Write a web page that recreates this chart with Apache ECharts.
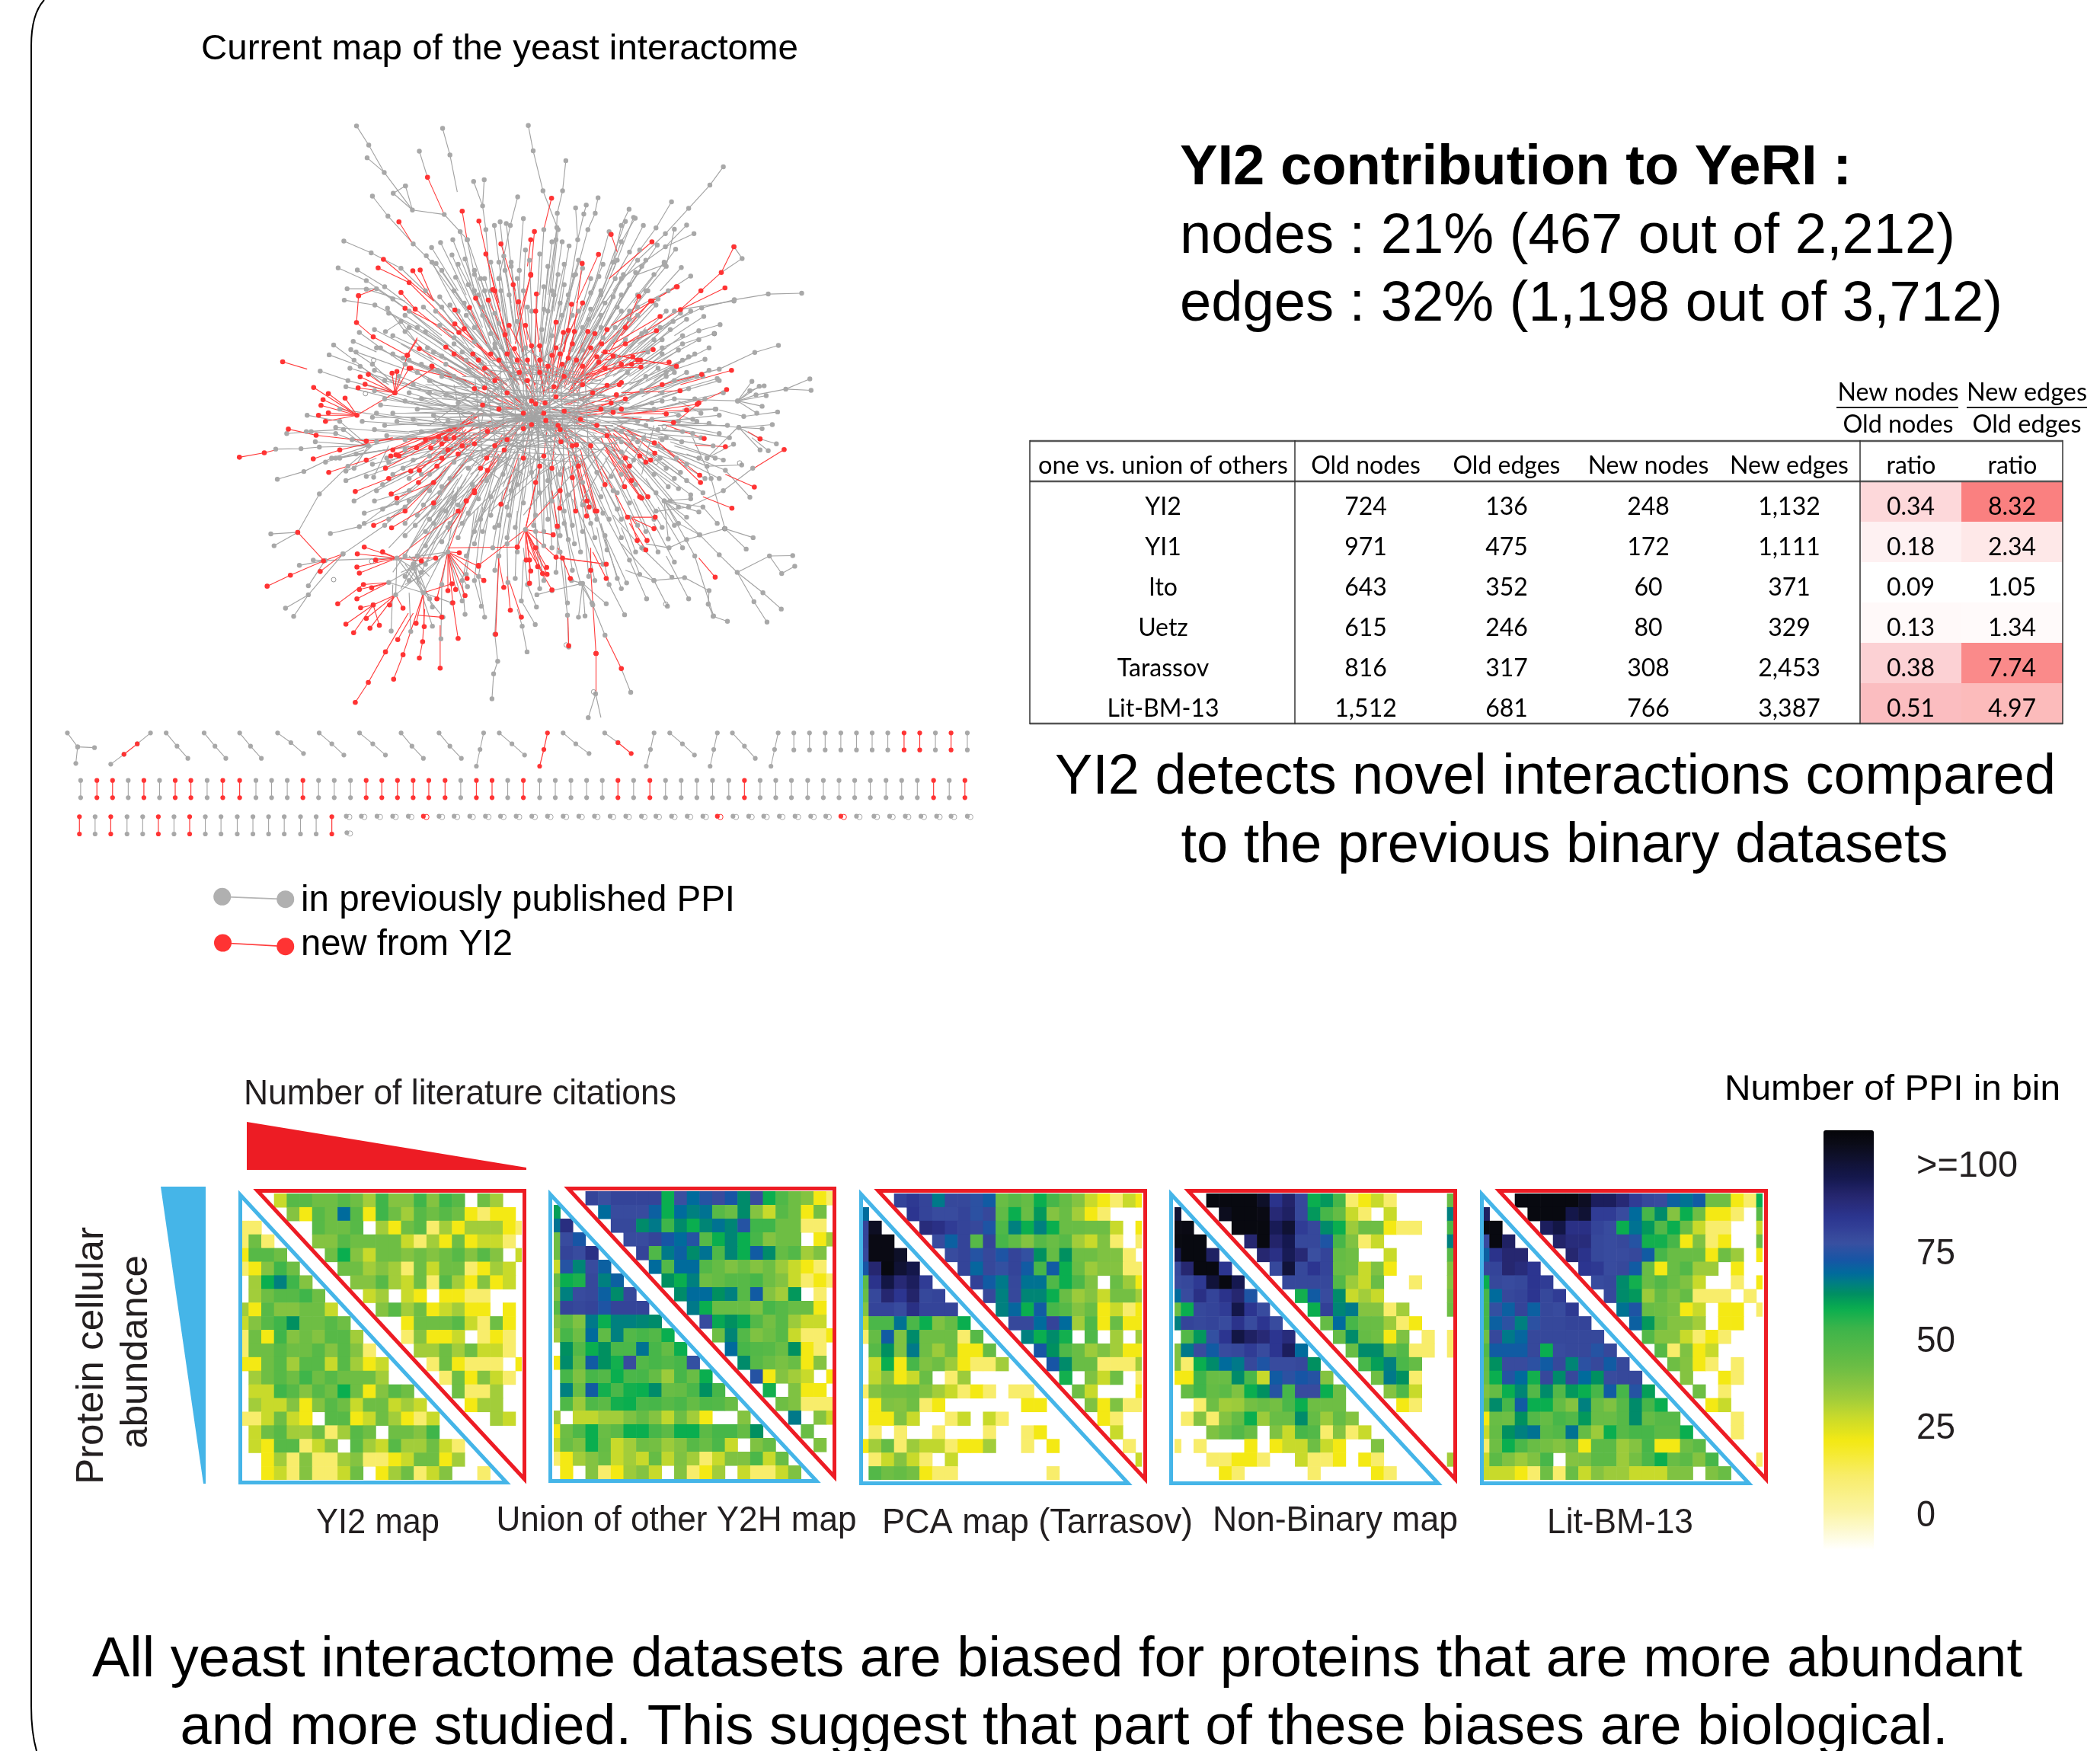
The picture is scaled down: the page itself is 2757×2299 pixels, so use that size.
<!DOCTYPE html>
<html><head><meta charset="utf-8">
<style>html,body{margin:0;padding:0;background:#fff}#c{width:2757px;height:2299px}</style>
<script src="https://cdn.jsdelivr.net/npm/echarts@6/dist/echarts.min.js"></script>
</head><body><div id="c"></div>
<script>
// ---------- DATA: bins of PPI counts (0 = empty bin), rows by abundance, columns by citations
const mapNames=['YI2 map','Union of other Y2H map','PCA map (Tarrasov)','Non-Binary map','Lit-BM-13'];
const binsYI2=[
[0,0,0,27,46,46,41,41,46,41,32,52,37,37,52,37,52,46,0,41,32,0,0],
[0,0,0,0,37,20,46,41,68,46,20,52,41,32,46,41,46,41,20,10,20,20,0],
[10,10,0,0,0,0,46,41,41,46,0,32,20,41,46,10,32,20,32,32,32,20,10],
[10,41,10,0,0,0,37,37,46,41,41,41,41,27,10,32,20,41,20,27,27,10,0],
[20,46,46,41,0,0,0,41,58,37,27,41,41,37,41,37,41,46,37,46,37,0,27],
[10,20,37,52,41,0,0,0,41,41,32,37,32,10,41,27,41,41,10,20,32,27,0],
[0,32,58,65,52,37,0,0,0,37,37,46,32,27,41,10,46,32,20,37,20,27,0],
[0,32,41,46,46,52,41,0,0,0,27,32,0,27,20,0,20,20,10,10,0,0,0],
[32,20,46,37,37,41,41,27,0,0,0,37,46,32,41,20,27,32,20,20,0,20,0],
[27,37,46,52,62,41,41,46,41,0,0,0,0,20,41,41,41,46,27,10,41,20,0],
[10,41,20,52,37,41,37,46,46,32,0,0,0,10,37,20,20,27,0,10,20,10,0],
[10,41,41,46,41,41,46,37,46,37,10,0,0,0,32,32,41,32,41,27,27,10,0],
[20,20,41,46,32,46,46,27,46,32,20,27,0,0,0,10,41,20,10,10,10,0,20],
[0,32,41,46,41,52,41,46,41,41,41,32,0,0,0,0,10,41,20,37,27,10,0],
[0,27,27,52,46,37,46,41,58,41,20,37,46,41,0,0,0,41,10,10,32,0,0],
[0,32,27,27,37,20,37,46,41,27,41,41,27,32,27,0,0,0,20,32,32,0,0],
[10,10,27,41,27,20,0,46,46,20,27,41,32,20,10,27,0,0,0,0,32,27,0],
[0,27,41,46,32,32,41,10,32,46,41,0,41,41,37,52,0,0,0,0,0,0,0],
[0,27,20,46,46,10,27,37,0,46,32,27,46,32,32,41,27,10,0,0,0,0,0],
[0,0,20,32,10,37,10,10,32,37,10,10,20,27,41,41,20,32,0,0,0,0,0],
[0,0,20,27,10,37,10,10,27,41,0,20,32,41,10,27,37,0,0,10,0,0,0]];
const binsY2H=[
[0,0,0,80,77,80,80,80,80,58,77,68,74,78,72,63,78,58,48,41,37,20,10],
[60,0,0,0,68,78,78,78,70,58,68,65,67,46,42,63,37,27,46,41,20,40,0],
[67,87,0,0,0,79,79,63,66,52,63,58,64,67,64,74,52,52,41,41,10,10,0],
[41,78,72,0,0,0,78,78,80,72,68,74,46,58,64,58,50,37,41,41,0,20,32],
[41,80,78,86,0,0,0,80,48,66,70,63,67,48,64,58,71,63,43,47,32,38,0],
[27,74,64,78,70,0,0,0,68,47,68,68,47,43,38,42,37,41,33,27,20,10,0],
[42,58,56,79,65,70,0,0,0,62,58,65,41,43,46,46,50,41,37,27,10,20,10],
[38,65,78,79,70,63,79,0,0,0,63,68,68,62,65,46,71,37,32,61,0,10,0],
[46,80,79,80,73,80,80,80,0,0,0,66,58,42,42,42,38,50,46,42,42,20,0],
[37,45,38,66,58,65,65,64,63,0,0,0,78,59,62,59,47,40,46,33,27,27,0],
[32,50,41,68,44,65,47,50,47,58,0,0,0,41,64,47,38,41,46,27,10,10,20],
[0,62,47,58,62,49,49,67,50,43,58,0,0,0,68,50,47,46,42,62,20,10,0],
[20,63,43,71,62,57,78,47,50,47,50,76,0,0,0,63,46,42,39,42,20,37,0],
[0,50,38,50,47,58,49,50,43,33,50,42,58,0,0,0,74,20,37,32,27,0,20],
[0,65,42,71,57,49,57,58,63,42,43,49,62,50,0,0,0,57,0,38,20,20,0],
[0,48,33,48,45,57,58,49,50,46,49,43,48,47,42,0,0,0,41,38,10,10,10],
[32,0,28,28,32,32,38,43,37,28,41,32,20,0,0,37,0,0,0,66,0,37,27],
[20,41,48,58,42,45,58,58,50,45,58,58,45,50,50,43,62,0,0,0,42,0,0],
[27,42,38,58,43,27,32,41,40,33,37,46,42,49,27,0,38,43,0,0,0,38,0],
[10,20,32,37,42,27,32,27,43,28,38,32,10,27,38,38,49,27,42,0,0,0,0],
[0,20,0,37,10,20,33,37,27,0,37,10,20,32,0,27,10,10,27,38,0,0,0]];
const binsPCA=[
[0,0,0,80,83,80,66,79,79,75,71,42,46,43,58,50,43,37,27,20,10,27,20],
[68,0,0,0,84,80,78,78,80,75,79,44,58,42,61,37,42,32,20,10,0,0,0],
[80,103,0,0,0,88,86,82,80,79,73,48,65,58,65,58,42,42,41,41,27,0,20],
[80,106,106,0,0,0,78,70,80,46,80,50,44,37,46,42,46,32,27,38,10,0,10],
[79,106,106,102,0,0,0,78,80,74,79,73,80,76,62,43,62,41,41,38,38,10,0],
[72,90,107,100,96,0,0,0,80,69,79,76,80,71,50,71,58,42,33,37,37,10,10],
[45,85,97,89,93,82,0,0,0,81,71,66,79,67,67,48,58,49,38,0,42,33,20],
[42,79,90,84,91,79,80,0,0,0,79,65,79,64,64,58,42,33,37,27,40,40,32],
[37,80,80,78,86,80,80,80,0,0,0,65,69,58,71,50,46,37,42,20,27,10,20],
[27,49,49,67,49,58,38,43,58,0,0,0,79,79,68,80,68,32,48,20,42,20,20],
[10,43,71,38,63,41,41,41,10,46,0,0,0,65,58,63,57,0,48,0,32,0,32],
[0,46,62,38,66,41,33,41,20,20,43,0,0,0,72,62,48,42,33,38,32,20,20],
[0,27,58,20,50,38,41,33,20,10,10,32,0,0,0,72,63,42,42,10,10,10,32],
[0,28,37,20,27,42,0,10,33,0,0,0,0,0,0,0,57,0,38,27,41,0,10],
[10,37,41,41,42,38,32,27,10,20,10,0,10,10,0,0,0,41,27,0,0,0,20],
[0,20,38,37,41,10,20,0,0,0,0,0,0,20,20,0,0,0,38,20,38,10,10],
[0,20,20,38,27,0,0,10,27,0,27,10,0,0,0,0,0,0,0,20,10,0,0],
[0,10,0,10,0,0,10,0,0,0,10,0,0,10,20,0,0,0,0,0,27,0,0],
[20,32,43,10,33,28,28,10,20,20,32,0,0,10,0,20,0,0,0,0,0,10,0],
[0,10,27,37,27,10,0,27,0,0,0,0,0,0,0,0,0,0,0,0,0,0,27],
[0,47,41,43,40,20,10,10,0,0,0,0,0,0,0,10,0,0,0,0,0,0,0]];
const binsNonBinary=[
[0,0,0,107,107,107,107,102,85,91,79,58,61,50,10,20,27,10,0,0,0,0,42],
[100,0,0,0,104,107,107,106,89,92,79,61,50,43,27,10,0,27,0,0,0,0,65],
[106,106,0,0,0,107,107,107,94,100,82,79,63,58,33,41,41,20,10,10,0,0,49],
[107,107,107,0,0,0,90,107,91,95,79,79,73,50,38,10,27,0,0,0,0,0,65],
[95,107,107,92,0,0,0,90,86,94,89,77,80,43,41,0,0,27,0,0,0,0,46],
[79,90,107,107,84,0,0,0,79,99,79,84,80,42,41,27,38,20,0,0,0,0,38],
[78,79,83,99,107,95,0,0,0,79,79,79,79,47,33,27,42,0,0,10,0,0,37],
[68,78,86,80,85,90,73,0,0,0,57,71,78,63,27,32,27,0,0,0,0,0,40],
[42,58,79,80,82,96,84,78,0,0,0,58,81,64,66,37,37,10,32,0,0,0,41],
[65,80,79,80,78,85,78,84,78,0,0,0,43,68,50,42,42,33,10,20,0,0,0],
[0,47,61,76,84,97,92,89,84,88,0,0,0,43,63,43,41,20,38,0,10,0,10],
[38,66,78,71,78,79,82,78,84,93,68,0,0,0,42,63,63,43,47,10,10,0,10],
[38,10,58,63,68,66,79,73,78,78,79,62,0,0,0,50,60,65,49,43,0,0,0],
[20,20,52,42,42,63,49,27,71,75,72,74,37,0,0,0,41,66,62,10,0,0,0],
[0,43,52,43,45,38,58,62,74,50,78,78,58,41,0,0,0,37,48,27,0,0,0],
[0,0,10,41,32,33,40,42,40,49,58,41,41,41,0,0,0,0,20,10,0,0,0],
[0,10,37,10,37,43,58,33,42,42,63,43,33,43,37,0,0,0,0,0,0,0,0],
[0,0,0,38,42,47,42,0,38,27,50,47,10,37,10,27,0,0,0,0,0,0,0],
[10,0,10,0,0,0,20,0,20,27,27,41,27,20,0,0,38,0,0,0,0,0,0],
[0,0,0,10,10,20,20,10,0,0,27,10,10,20,0,20,10,0,0,0,0,0,32],
[0,0,0,0,20,10,0,0,0,0,0,10,0,0,0,0,20,10,0,0,0,0,0]];
const binsLit=[
[0,0,0,107,107,107,107,107,103,93,93,89,82,79,78,70,67,71,41,41,20,10,58],
[92,0,0,0,107,107,107,96,100,82,82,78,68,50,63,37,58,41,20,20,10,0,46],
[107,107,0,0,0,93,97,86,86,80,78,58,67,61,47,58,42,27,10,10,0,0,27],
[78,107,92,0,0,0,91,88,88,79,78,79,74,57,57,50,20,38,10,20,0,0,41],
[70,85,90,90,0,0,0,90,85,79,78,78,79,71,50,42,42,42,20,41,33,0,20],
[79,80,90,88,84,0,0,0,84,83,78,79,71,42,20,42,47,33,33,0,20,0,0],
[58,79,78,79,84,82,0,0,0,78,79,63,57,42,47,42,38,27,0,0,10,0,20],
[50,68,79,80,84,79,82,0,0,0,79,63,61,33,43,38,43,10,10,10,0,10,0],
[50,76,70,80,70,79,78,83,0,0,0,67,73,42,41,39,20,27,0,20,20,0,10],
[50,70,75,65,75,79,79,80,80,0,0,0,70,61,43,37,37,32,0,20,20,0,0],
[41,79,66,69,79,79,79,79,79,79,0,0,0,47,37,37,27,10,20,10,0,0,0],
[47,71,71,71,79,58,78,79,79,74,79,0,0,0,46,10,38,20,27,0,0,0,0],
[43,62,78,78,75,71,79,64,75,79,71,79,0,0,0,41,37,20,10,0,10,0,0],
[42,58,74,68,57,79,63,79,68,62,78,79,79,0,0,0,37,0,0,20,10,0,0],
[38,43,58,64,47,63,47,61,58,50,71,50,74,60,0,0,0,41,0,10,0,0,0],
[42,63,50,71,58,58,43,37,65,42,38,46,63,50,58,0,0,0,20,27,0,0,0],
[20,42,41,62,47,43,50,47,61,42,42,46,63,43,46,46,0,0,0,0,10,0,0],
[27,43,62,65,67,45,47,67,43,33,58,46,50,50,45,45,58,0,0,0,10,0,0],
[10,41,58,49,42,40,37,41,20,45,45,33,37,50,20,20,41,45,0,0,0,0,0],
[27,45,38,33,38,50,0,37,38,45,45,33,40,49,58,42,45,37,50,0,0,0,10],
[27,27,27,20,10,41,10,42,27,37,33,33,27,27,27,38,38,0,38,42,0,0,0]];
const allBins=[binsYI2,binsY2H,binsPCA,binsNonBinary,binsLit];
const colorbarTicks=['>=100','75','50','25','0'];

// table
const tableHead=['one vs. union of others','Old nodes','Old edges','New nodes','New edges','ratio','ratio'];
const datasets=['YI2','YI1','Ito','Uetz','Tarassov','Lit-BM-13'];
const oldNodes=['724','971','643','615','816','1,512'];
const oldEdges=['136','475','352','246','317','681'];
const newNodes=['248','172','60','80','308','766'];
const newEdges=['1,132','1,111','371','329','2,453','3,387'];
const nodeRatio=[0.34,0.18,0.09,0.13,0.38,0.51];
const edgeRatio=[8.32,2.34,1.05,1.34,7.74,4.97];

// yeast interactome network: polylines x,y,x,y... from leaf towards the core
const grayChains=[
[351,66,381,113,419,180,488,272,566,283,623,345,665,470,735,700],[377,144,419,180],[471,213,441,231,488,272],[471,213,488,272],
[390,238,428,287,490,355,536,400,600,520,720,720],[505,128,525,192],[562,72,580,137,598,228],[622,345,640,430,690,600,760,760],
[772,65,784,127,808,225,845,320,830,470,790,700],[864,151,856,225,843,280,840,345,810,600],[638,202,660,262,668,320,680,470,750,720],[664,198,660,262],
[746,240,728,310,700,440,740,690],[689,310,700,400,730,600],[703,301,715,420,760,680],[718,305,730,410,770,650],
[888,267,893,345,870,480,800,720],[914,260,908,282,893,345],[936,280,918,320,888,430,810,700],[943,242,935,280],
[1019,270,1000,310,980,400,900,600],[1034,292,1000,350,950,480,830,740],[1054,310,1020,375,940,520],
[1250,166,1217,211,1165,268,1108,330,1040,395,960,500,840,720],[1123,252,1085,316,1045,370,980,470],[1178,330,1108,362,1000,440,880,680],[1160,309,1110,360],[1133,368,1105,406,1040,430],[1130,319,1110,410,1060,470,900,700],
[1170,434,1115,470,1020,520,880,700],[1147,413,1095,470],[1080,430,1040,480,950,590],[1276,362,1296,391,1245,425],
[1442,476,1360,478,1277,492,1197,512,1095,560,900,740],[1276,495,1145,516],[1242,553,1190,568,1100,610,900,750],[1228,575,1150,600,1020,680],[1202,533,1130,580],
[1385,604,1327,621,1240,662,1130,690,950,760],[1205,638,1110,670,1000,720],[1165,632,1080,690],
[1462,686,1403,711,1330,725,1285,740,1130,735,950,770],[1465,714,1403,711],[1320,692,1285,740],[1338,704,1285,740],[1350,703,1315,715,1285,740],[1355,727,1285,740],[1345,753,1285,740],[1383,767,1300,778,1240,762],[1332,770,1285,740],
[1370,798,1288,805,1140,790,950,780],[1345,808,1288,805],[1380,845,1340,833,1288,805],[1360,862,1320,830],[1340,860,1288,805],[1275,846,1210,880,1285,805],
[1295,897,1210,900,1090,850,950,800],[1322,905,1250,960,1165,1000,1090,1010],[1315,976,1255,910,1160,870],
[1235,1040,1200,1000,1105,985,970,860],[1254,1053,1220,930,1175,830],[1323,1075,1254,1053,1160,1080,1117,1100,1060,1090],[1306,1103,1254,1053],[1420,1119,1363,1120,1284,1160,1240,1117,1192,1068,1105,985],[1425,1145,1393,1163,1363,1120],[1392,1250,1347,1210,1284,1160],[1357,1282,1325,1232,1284,1160],[1260,1280,1225,1268,1213,1238,1215,1205,1155,1173,1080,1180,1010,1155],[1226,1267,1180,1120,1105,985],[1113,1243,1080,1180,1000,1090],[1062,1225,1020,1130,950,1000],[1008,1264,970,1190,940,1050],[1124,1172,1050,1100,980,1020],[1192,1068,1140,1040,1105,985],[1115,1078,1105,985],[1190,1012,1105,985],[1160,1025,1105,985],[1170,980,1105,985],[1140,955,1050,890],
[1230,760,1150,760],[1195,770,1140,740],[1148,840,1050,800],[1185,790,1130,770],[1175,820,1100,810],[1240,820,1140,800],[1230,880,1130,850],[1145,915,1060,850],[1205,930,1090,860],[1135,880,1050,830],[1115,950,1030,860],[1170,970,1050,880],[1130,930,1020,850],[1140,1000,1040,880],[1080,1030,1000,900],[1100,1050,1010,900],
[683,1470,687,1409,697,1378,690,1312,700,1120,740,900],[1023,1454,1000,1396],[960,1314,930,1240,900,1187,860,1040,830,900],[919,1516,937,1458,950,1516],[769,1355,757,1292,745,1250],[789,1288,755,1230,760,1130],[871,1343,868,1265,850,1110,820,950],[895,1270,905,1187],[911,1267,905,1187],[963,1237,905,1187],[928,1235,905,1187],[878,1180,905,1187],[793,1215,830,1205,905,1187],[792,1245,770,1190,760,1100],[722,1185,720,1090,750,900],[617,1263,610,1180,650,1000],[657,1243,640,1180,660,1000],[665,1270,650,1170,680,980],[436,1304,440,1190],[537,1292,500,1180],[558,1323,560,1190,600,950],[1013,1186,960,1070,880,880],[990,1175,950,1040],[955,1140,880,980],[920,1170,905,1000],[840,1160,845,1050,820,900],[868,1235,860,1130],[810,1180,790,1060,780,900],
[157,932,222,913,290,880,380,850,600,800,760,780],[153,858,215,857,260,853,380,850],[319,810,370,850],[230,775,310,790,380,850],[180,820,240,815,300,820,380,850],[228,815,320,810],[262,667,330,690,445,720,620,770],[284,627,360,655,430,700],[295,603,345,640,440,720],[337,614,390,650,445,700],[358,572,410,610,470,650,600,740],[343,594,400,620],[320,348,387,377,460,415,560,510,700,720],[306,414,375,445,440,490,560,580],[328,465,400,465,480,520,620,640],[321,493,396,505,500,560,640,660],[353,419,420,460,500,520],[375,466,470,495],[427,513,470,570,540,640],[422,570,460,545,500,600],[250,840,380,850],[300,880,420,860],[345,905,380,850],[275,890,370,860],[325,912,400,880],[393,927,430,850],[141,1066,207,1062,260,968,330,900,390,850],[149,1095,207,1062],[287,1065,358,1048,470,1000,580,900],[370,1015,450,990,560,900],[395,985,480,960,590,860],[415,1005,500,970],[197,1268,233,1215,318,1115,420,1045,560,920],[177,1248,233,1215],[233,1193,274,1131,450,1125],[211,1143,274,1131],[245,1130,274,1131],
[610,1230,575,1110],[623,1195,575,1110],[585,1235,515,1210],[563,1270,515,1210],[537,1245,500,1150],[484,1305,480,1210],[530,1225,490,1150],[490,1140,575,1050,680,900],[470,1170,560,1000],[510,1160,600,960],[500,1120,620,930],[520,1140,640,940],[470,1120,560,960],[480,1180,590,1000],[520,1060,600,960],[540,1040,610,920],[540,1000,620,880],[500,1020,580,900],[470,1040,570,900],
[605,325,640,470,740,720],[587,345,650,500],[557,352,620,480],[535,364,600,470],[522,384,620,520],[546,403,640,540],[585,382,660,560],[617,392,680,600],[594,437,670,590],[640,420,700,600],[655,440,710,620],[665,440,720,640],[700,440,720,620],[730,400,745,600],[760,293,750,420,755,620],[765,370,760,480],[800,380,790,560],[810,320,800,480],[830,350,810,520],[855,350,830,520],[842,315,820,480],[872,360,840,540],[845,430,820,600],[883,432,850,620],[905,415,860,600],[925,440,870,620],[945,435,880,600],[970,325,930,470],[990,395,920,560],[1010,300,960,440],[1030,290,980,420],[1050,410,960,560],[1005,430,930,600],[1035,425,950,580],[1060,395,970,540],[1088,358,1020,460],[1105,400,1030,500],[990,510,900,640],[980,485,900,620],[1040,510,940,650],[1020,540,940,650],[1110,520,980,650],[1127,545,990,660],[1145,525,1020,620],[1170,520,1040,600],[1100,590,980,680],[1060,570,960,680],
[1150,640,1020,700],[1200,680,1060,720],[1235,685,1080,730],[1185,680,1080,710],[1130,670,1020,730],[1110,680,1000,750],[1232,760,1100,770],[1180,735,1040,770],[1100,740,1000,760],[1080,760,980,770],[1060,800,980,790],[1055,830,970,800],[1030,830,950,800],[1000,840,930,800],[1090,810,1000,790],[1110,830,1010,810],[1000,890,930,820],[1000,920,920,830],[980,960,900,840],[990,1005,910,860],[970,1030,900,880],[940,1030,880,880],[905,1060,870,900],[885,1090,850,900],[850,1070,840,900],[830,1100,820,900],[810,1060,810,880],[790,1020,800,880],[740,1050,770,880],[720,1000,760,860],[690,1050,740,880],[660,1060,720,880],[640,1090,700,880],[620,1120,690,900],[680,1020,730,860],[650,980,720,850],[610,1040,690,880],[590,980,680,860],[570,1010,660,860],[560,950,650,840],[530,960,640,830],[510,920,630,820],[480,930,620,820],[440,920,600,820],[430,890,600,810],[470,860,620,800],[400,840,600,800],[420,800,620,790],[390,780,620,780],[410,750,640,770],[440,770,640,770],[470,740,650,760],[500,760,660,760],[530,720,680,750],[490,700,660,740],[530,690,680,730],[560,680,690,730],[510,650,680,710],[465,635,660,710],[540,620,690,700],[570,650,700,710],[590,600,710,690],[620,640,720,700],[640,560,730,680],[660,530,740,670],[620,530,710,650],[700,550,750,660],[745,545,765,660],[780,520,780,660],[820,520,800,660],[850,500,810,650],[880,530,830,660],[920,540,850,670],[950,560,870,680]];
const grayLeaves=[
[560,420,640,540],[600,405,660,520],[680,400,705,520],[712,385,730,500],[745,440,755,560],[775,395,780,520],[820,410,810,530],[860,405,835,520],[895,395,860,520],[955,405,905,520],[985,440,930,540],[1020,455,960,560],
[520,470,610,570],[555,485,640,590],[590,470,650,560],[625,455,675,560],[650,480,700,600],[705,470,725,580],[725,480,740,590],[760,470,770,590],[810,460,800,590],[835,480,815,600],[860,455,840,590],[925,475,880,590],[950,470,900,580],[1000,480,940,590],[1065,470,990,560],[1090,490,1000,580],
[430,525,560,600],[470,530,585,610],[515,510,615,600],[545,520,640,610],[580,505,660,610],[615,500,680,620],[660,510,715,620],[690,525,730,630],[770,510,780,620],[810,515,800,630],[855,530,830,630],[895,520,850,630],[925,515,880,620],[950,530,890,630],[1000,520,930,620],[1040,530,960,620],[1085,505,990,610],[1130,520,1020,610],[1160,540,1050,620],
[395,565,540,640],[440,580,570,640],[480,560,600,640],[520,570,630,650],[555,555,650,640],[590,585,670,650],[640,595,700,660],[680,575,730,650],[805,565,810,660],[830,580,820,650],[905,560,860,650],[955,585,890,660],[985,560,910,650],[1010,590,930,660],[1050,575,960,660],[1080,590,990,670],[1120,565,1020,650],[1150,580,1040,660],[1190,590,1060,660],
[350,620,520,680],[400,610,540,670],[440,625,570,680],[480,640,600,690],[525,610,640,680],[560,630,660,690],[610,620,690,690],[650,640,710,700],[690,610,740,690],[730,630,760,700],[765,610,780,690],[905,615,860,690],[985,630,920,700],[1065,620,980,700],[1100,625,1000,710],[1140,615,1030,690],[1180,625,1060,690],[1215,610,1080,680],
[335,660,510,710],[395,665,530,720],[420,690,560,730],[455,680,590,730],[500,670,620,730],[550,665,650,730],[590,680,680,740],[625,665,700,740],[1015,670,940,730],[1060,680,980,740],[1090,660,1000,730],[1125,660,1030,730],[1160,670,1050,730],[1215,665,1090,720],[1240,690,1100,730],
[325,705,500,750],[395,715,540,760],[420,735,560,760],[480,720,610,760],[510,735,640,770],[570,725,670,770],[600,745,690,770],[1050,715,970,760],[1075,745,990,770],[1100,720,1010,760],[1165,710,1050,750],[1205,735,1080,760],[1250,720,1120,750],
[310,760,500,790],[365,790,530,800],[400,770,540,790],[450,790,590,800],[490,785,620,800],[540,775,650,800],[575,790,670,800],[1040,790,960,790],[1075,785,990,790],[1140,775,1030,790],[1175,785,1060,790],[1215,795,1090,800],[1240,775,1100,790],[1260,800,1120,800],
[300,805,480,820],[340,835,500,830],[395,810,540,820],[425,825,560,830],[470,835,590,830],[510,815,620,820],[540,840,650,830],[1000,815,930,810],[1040,840,960,820],[1100,835,1010,820],[1150,815,1040,810],[1195,830,1070,820],[1225,850,1090,830],[1265,830,1130,810],
[310,880,480,850],[350,870,500,850],[390,895,540,860],[425,880,560,850],[490,885,600,850],[530,875,630,850],[565,865,660,840],[590,890,680,850],[630,880,700,840],[1000,865,930,830],[1030,885,950,840],[1095,880,1000,840],[1160,895,1050,860],[1190,880,1070,850],[1250,885,1120,840],
[325,935,470,880],[375,925,500,880],[415,945,540,880],[465,905,580,870],[530,920,610,870],[580,930,640,870],[625,905,680,860],[670,935,720,870],[710,920,740,860],[745,945,770,870],[780,915,790,860],[820,935,810,870],[850,920,830,860],[905,940,870,860],[940,915,900,850],[975,925,920,850],[1035,945,970,860],[1080,920,1010,860],[1110,905,1040,850],[1160,935,1070,870],[1240,930,1120,870],
[345,985,480,910],[400,960,520,900],[480,985,570,910],[515,995,600,920],[555,965,620,890],[600,995,660,900],[635,945,690,890],[680,975,720,890],[730,960,750,880],[760,990,775,890],[800,965,800,880],[830,985,820,890],[870,970,850,880],[905,995,880,890],[950,975,900,870],[990,965,930,870],[1020,990,960,880],[1085,965,1010,880],[1120,985,1040,890],[1200,965,1100,890],
[370,1040,490,950],[430,1030,530,950],[495,1045,590,960],[530,1030,610,950],[580,1040,640,950],[625,1015,670,930],[655,1030,700,930],[700,1045,730,920],[725,1020,745,920],[785,1045,790,920],[820,1030,810,920],[860,1010,840,910],[880,1045,860,920],[925,1040,890,920],[955,1015,910,910],[1000,1030,940,910],[1040,1045,980,920],[1085,1010,1020,910],[1130,1045,1060,930],
[470,1070,560,980],[520,1095,590,990],[560,1085,620,990],[600,1075,650,970],[640,1060,680,960],[685,1100,710,960],[720,1075,735,950],[745,1110,760,950],[810,1095,800,950],[870,1080,850,950],[900,1110,875,960],[935,1075,900,950],[965,1105,925,960],[1000,1075,950,950],[1035,1110,985,970],[1060,1060,1010,950],[1090,1110,1030,980],[1150,1100,1090,1000],[620,1165,640,1010],[690,1155,710,1000],[740,1175,745,1010],[800,1200,790,1040],[880,1155,860,1030],[935,1180,910,1060],[1000,1200,960,1080],[1045,1165,1000,1050],[1165,1225,1110,1120],[1130,1135,1080,1040]];
const redChains=[
[64,878,125,867,153,860],[170,644,230,662],[184,809,252,824,375,838,540,830],[246,707,352,775],[282,722,352,775],[269,737,352,775],[264,751,352,775],[258,775,352,775],[282,769,352,775],[275,790,352,775],[323,733,352,775],[352,775,445,720,476,628,500,590],[360,681,445,720],[380,675,445,720],[372,699,445,720],[355,708,445,720],[438,672,445,720],[450,668,445,720],[480,660,445,720,540,660],
[132,1194,189,1167,270,1132,318,1115],[262,1158,318,1115],[207,1062,268,1128],[348,962,430,930,560,880,640,800],[245,882,310,860,440,830],[283,915,375,885,500,830],[450,978,540,940,640,830],[436,968,550,900],[503,940,570,880],[393,1045,470,1010,560,920],[437,1051,540,990,640,860],
[370,1098,450,1125],[353,1115,450,1125],[352,1147,450,1125],[358,1162,450,1125],[398,1130,450,1125],[415,1110,450,1125],[368,1190,430,1185],[358,1202,430,1185],[352,1225,430,1185],[388,1198,430,1185],[325,1287,392,1240,447,1215],[305,1237,368,1190],[361,1247,392,1240],[375,1273,447,1215],[344,1308,392,1240],[384,1297,447,1215],[407,1290,392,1240],[348,1479,380,1430,422,1355,478,1260],[442,1422,465,1362,515,1210],[505,1370,513,1330,518,1250],[452,1325,490,1260],[556,1395,556,1290],[600,1322,587,1235,575,1110],[497,1285,515,1210],[517,1293,515,1210],[465,1248,447,1215],[432,1240,447,1215],[560,1270,500,1265],[548,1225,575,1110],[575,1205,575,1110],[594,1202,575,1110],[617,1217,575,1110],[585,1188,515,1210],[622,1175,575,1110],[663,1180,575,1110],[650,1145,575,1110],[603,1112,575,1110],[545,1125,450,1125],[510,1132,450,1125],[620,985,575,1110],[600,1010,450,1125],[640,960,575,1060],
[755,1270,725,1180],[712,1197,697,1120],[728,1253,720,1170],[767,1130,765,1055],[775,1187,775,1130,765,1055],[778,1157,765,1055],[795,1146,765,1055],[807,1163,765,1055],[817,1148,765,1055],[818,1165,765,1055],[790,1100,765,1055],[840,1123,765,1055],[856,1125,963,1140],[830,1203,770,1100],[875,1175,845,1100],[745,1098,765,1055],[650,1143,765,1055],[833,1068,765,1055],[745,1098,575,1100],[800,900,765,1055],[790,940,765,1055],[850,960,765,1055],[843,1047,830,960],[938,1359,925,1155,925,1100],[938,1359,938,1458],[963,1175,930,1110],[963,1140,845,1125],[1000,1396,960,1314],[692,1312,700,1120],[871,1340,869,1265],[1230,1172,1190,1125],[1063,1082,1020,1020],[1039,1082,1020,1025],[1080,1053,1020,1025],[1060,1105,1020,1040],[1083,1025,1015,1025,950,900],[1271,1003,1200,975],[1326,951,1255,920],[1399,859,1325,905],[1270,665,1145,700],[1258,712,1190,745,1130,795],[1197,675,1100,700,960,740],[1255,852,1180,848],[1203,832,1110,800],[1192,922,1100,850],[1194,940,1090,840],[1144,715,1000,720],[1186,748,1000,775],[1137,460,1075,495,960,600],[1254,463,1145,516,1010,600,880,700],[1245,425,1195,470,1145,516],[1276,362,1245,425],[1043,484,1010,560,970,620],[1072,495,1000,580],[1095,533,980,600],[1086,568,960,620],[1078,614,960,640],[1135,655,1000,630],[1117,645,1010,650],[1048,657,960,660],[1047,640,950,620],[1340,833,1310,815],[1081,843,990,800],[1110,772,990,770],[1128,793,1000,780],[1160,762,1020,770],[1082,868,1000,800],[1060,890,1000,810],[1072,885,980,810],[1045,875,980,820],[1025,935,960,820],[1020,900,970,830],[1010,880,960,800],[1045,975,960,860],[1065,975,980,860],[1050,978,960,850],[1008,950,950,830],[960,945,920,840],[940,1010,900,860],[916,985,880,860],[921,1000,890,870],[936,1010,900,880],[888,1010,880,900],[915,1022,890,900],[849,1003,860,880],[880,928,860,800],[895,900,860,800],[830,905,840,800],[810,875,820,790],[705,993,750,870],[620,985,700,870],[640,965,720,850],[672,910,710,830],[655,905,710,820],[548,900,640,820],[505,910,620,810],[484,912,620,800],[448,872,620,790],[435,875,640,790],[422,905,620,800],[455,875,600,800],[440,860,600,800],[498,855,640,780],[533,855,640,770],[552,828,660,770],[570,832,660,770],
[829,243,810,320],[651,299,690,470,730,640],[787,325,778,430,740,600],[778,345,770,410],[705,355,740,470],[668,380,700,500],[417,393,540,495],[404,414,480,450,600,570],[489,421,535,490],[507,419,540,495],[460,474,495,515,590,590],[470,513,590,575],[592,517,640,600],[643,488,700,590],[685,467,720,580],[628,511,670,600],[674,493,720,590],[735,455,760,620],[778,432,750,530],[792,478,790,600],[944,381,890,500],[904,403,880,600],[905,500,860,600],[878,503,860,620],[790,520,800,620],[748,497,770,610],[725,555,760,620],[592,551,680,630],[602,572,690,640],[615,563,680,640],[505,612,620,680],[570,608,680,680],[590,625,680,690],[636,625,700,690],[484,660,620,690],[536,655,640,700],[455,301,490,357],[525,192,566,283],[610,275,622,345],[356,482,351,548,392,583,475,628,500,585],[356,482,405,463],[975,332,990,375],[1075,350,970,440],[1135,460,975,555],
[715,578,770,680],[738,612,790,700],[765,555,800,680],[780,605,810,700],[800,605,820,700],[840,547,830,680],[858,572,840,680],[870,567,840,690],[885,570,850,700],[918,570,860,700],[935,575,870,700],[965,565,880,710],[952,600,880,710],[960,620,880,720],[940,632,870,720],[880,600,850,700],[870,635,840,720],[850,625,830,720],[830,628,820,720],[800,640,810,730],[750,670,790,740],[690,690,760,750],[665,708,760,760],[640,710,750,760],[860,680,830,730],[905,700,850,740],[930,720,860,750],[965,702,870,750],[988,725,880,760],[1010,735,890,770],[980,768,880,780],[950,760,860,770],[900,785,860,770],[860,765,830,760],[845,800,820,780],[815,788,800,770],[780,798,790,760],[760,808,780,760],[790,747,770,730],[813,745,780,730],[835,705,800,720],[890,848,840,790],[852,840,830,790],[760,880,780,790],[713,860,760,790],[672,815,750,780],[660,750,750,760],[1028,632,900,680],[1040,640,920,690],[1000,695,900,720],[960,660,880,700],[1000,650,900,690],[1025,650,900,680],
[650,640,720,700],[665,660,730,710],[680,625,740,690],[700,640,750,700],[720,625,760,700],[745,640,770,710],[770,640,790,710],[820,655,810,720],[840,610,830,690],[855,650,840,720],[890,640,860,710],[905,655,870,720],[925,610,880,690],[945,645,890,720],[980,630,910,700],[995,700,900,740],[975,745,890,760],[1000,760,900,770],[940,800,870,780],[965,825,880,790],[925,850,860,800],[880,850,840,800],[850,810,820,780],[720,835,770,790],[690,850,750,790],[670,880,740,800],[640,845,720,790],[610,850,700,790],[590,830,680,790],[575,860,680,800],[600,870,680,810],[560,845,660,800],[520,835,640,790],[780,740,800,760],[810,770,800,750],[840,730,820,750],[760,770,780,750],[720,720,760,750],[700,760,750,760],[800,670,810,720],[770,690,790,730]];
const coreChains=[
[600,770,950,790],[620,800,960,760],[640,750,940,820],[660,720,920,850],[680,700,900,860],[700,680,880,870],[720,670,860,880],[750,660,830,885],[780,655,800,890],[810,660,770,890],[840,665,740,880],[870,680,710,870],[900,700,680,850],[930,720,650,830],[950,750,630,810],[620,740,900,830],[650,690,950,800],[700,660,980,770],[580,780,1000,760],[560,800,980,800],[600,840,900,720],[640,860,860,690],[680,880,820,680],[720,890,790,670],[760,900,760,660],[800,890,730,670],[840,870,700,690],[880,850,670,710],[920,830,640,740],[960,810,610,770],[680,740,860,800],[700,780,880,760],[720,720,840,830],[740,700,820,840],[760,720,800,840],[780,700,780,840],[700,810,870,740],[720,830,850,720],[680,770,890,790],[670,800,900,770],[650,770,870,780],[690,790,930,780],[700,760,850,820],[730,780,870,800],
[520,700,1000,730],[540,720,1020,745],[560,735,1030,770],[500,750,1040,760],[520,770,1050,780],[540,785,1020,795],[500,800,1030,810],[530,815,1000,830],[560,830,990,845],[590,845,960,860],[610,680,980,700],[630,660,950,690],[650,650,930,680],[680,640,900,670],[620,860,930,875],[650,875,900,890],
[660,640,700,900],[700,620,720,920],[730,610,750,930],[760,610,780,930],[790,600,800,930],[820,610,830,930],[850,620,860,920],[880,640,890,900],[910,650,920,880],[640,670,660,880],[590,700,620,860],
[560,660,900,880],[600,640,940,860],[640,620,980,830],[700,610,1000,790],[760,610,1010,760],[520,720,820,900],[540,780,760,920],[560,830,700,930],[950,640,640,900],[900,620,600,880],[850,600,560,840],[800,600,530,800],[1000,680,680,910],[1020,730,740,920],[1030,780,800,920],[1000,830,860,910],
[430,1100,620,900],[440,1160,600,930],[460,1200,590,960],[480,1100,650,920],[520,1200,620,1000],[440,1130,575,1110],[500,1180,575,1110],[430,1185,515,1210],[447,1215,575,1110],[450,1125,515,1210],[450,1125,447,1215],[490,1150,515,1210],[490,1150,450,1125],[490,1150,575,1110],[490,1150,430,1185],[470,1140,510,1190],[480,1120,530,1170],[460,1160,530,1130],[495,1130,500,1190],[510,1170,470,1190],
[480,710,900,745],[490,735,960,725],[470,770,880,755],[480,815,940,770],[510,840,900,790],[540,860,880,800],[570,880,850,820],[600,900,830,790],[630,920,800,810],[670,930,790,780],[710,950,770,800],[750,960,780,770],[790,950,800,780],[830,945,810,790],[870,930,820,770],[910,910,830,780],[950,890,820,760],[990,870,840,760],[1030,850,850,770],[1060,820,860,760],[1080,790,880,770],[1090,760,860,750],[1070,720,860,740],[1050,690,850,730],[1020,660,840,730],[990,630,830,720],[950,600,820,710],[910,590,810,720],[870,570,800,730],[830,560,790,720],[790,560,780,730],[750,570,770,730],[710,580,760,740],[670,590,750,740],[630,610,740,750],[590,630,730,750],[550,660,720,760],[520,680,710,770],
[610,730,720,810],[630,780,760,850],[650,830,790,860],[690,850,840,850],[730,860,880,830],[770,850,910,800],[810,840,940,760],[850,820,930,720],[890,790,900,680],[910,750,860,660],[900,710,810,650],[870,690,770,650],[830,670,730,670],[790,660,690,700],[750,670,650,740],[710,690,630,790],[670,720,650,840],
[575,1000,730,880],[600,1050,760,890],[640,1040,790,870],[680,1010,820,880],[720,990,850,870],[760,1020,890,860],[810,1000,930,860],[850,1000,960,850],[900,990,990,840],[950,960,1030,830],[1000,950,1060,820],[1050,920,1080,800],[460,600,630,700],[500,590,660,690],[560,560,690,680],[610,540,730,670],[960,520,880,660],[1010,550,920,670],[1060,560,960,680],[1110,610,1000,690]];
const grayHubs=[[1285,740],[1288,805],[1105,985],[1254,1053],[905,1187],[450,1125],[575,1110],[430,1185],[447,1215],[515,1210],[392,1240],[490,1150],[765,1055],[380,850],[318,1115],[925,1155],[1210,880],[1020,1025]];
const hollowNodes=[[1228,575],[393,640],[373,722],[535,655],[1105,803],[1290,892],[1253,1053],[1055,1103],[1109,1238],[932,1453],[865,1338],[295,1178],[388,1133],[1085,890]];

// small components beneath the main network (picture coordinates of the strip)
const stripGray=[[36,67,53,122,50,187],[53,122,81,125],[174,67,152,110],[130,151,108,190],[200,67,218,119,236,167],[263,67,281,119,299,167],[322,67,340,119,358,167],[385,67,407,105,428,148],[454,67,475,110,495,154],[521,67,543,110,564,154],[590,67,608,119,627,167],[653,67,671,119,690,167],[727,67,721,132,715,198],[753,67,774,110,795,154],[859,67,880,110,902,148],[928,67,950,105],[1010,67,1004,132,997,198],[1036,67,1057,110,1077,154],[1115,67,1109,132,1103,198],[1140,67,1160,119,1178,167],[1216,67,1210,132,1204,198]];
const stripRed=[[152,110,130,151],[833,67,827,132,820,198],[950,105,972,148]];
const pairsRow1Gray=[1242,1268,1294,1320,1346,1372,1398,1477,1530];
const pairsRow1Red=[1425,1451,1503];
const pairsRow2Gray=[58,137,189,268,349,375,401,453,479,506,689,767,820,846,872,898,924,976,1029,1055,1081,1107,1134,1186,1212,1238,1265,1291,1317,1343,1369,1395,1421,1447,1500];
const pairsRow2Red=[85,111,163,215,241,294,322,427,532,558,584,610,636,663,715,741,793,950,1003,1160,1474,1526];
const pairsRow3Gray=[82,135,161,213,265,291,318,344,370,396,423,449];
const pairsRow3Red=[56,108,187,239,475];
const loopsGray=[499,524,550,576,602,653,678,704,730,755,781,807,833,859,885,911,937,963,989,1013,1039,1065,1091,1141,1167,1192,1218,1244,1270,1295,1346,1375,1401,1427,1453,1479,1503,1530];
const loopsRed=[627,1115,1320];

// ---------- DRAWING
const W=2757,H=2299;
const SANS='"Liberation Sans",Arial,sans-serif';
const ctx=document.createElement('canvas').getContext('2d');
function T(text,x,y,size,width,o){o=o||{};
  const weight=o.weight||'normal',fam=o.fam||SANS;
  ctx.font=weight+' '+size+'px '+fam;
  const sx=width?width/ctx.measureText(text).width:1;
  return {type:'text',x:o.rot?x+size*.07:x,y:o.rot?y:y+size*.07,scaleX:sx,rotation:o.rot||0,silent:true,z:20,
    style:{x:0,y:0,text,fill:o.fill||'#000',font:weight+' '+size+'px '+fam,textAlign:o.align||'left',textVerticalAlign:'middle'}};
}
function L(x1,y1,x2,y2,w,c){return {type:'line',silent:true,z:20,shape:{x1,y1,x2,y2},style:{stroke:c||'#000',lineWidth:w}};}

const mapGrids=[[318,685,1567,1943],[727,1093,1564,1942],[1132,1499,1567,1943],[1542,1908,1567,1943],[1947,2314,1567,1943]];
const RED='#ED1C24',BLUE='#45B5E8';
const triRed=[[[332,1561],[691,1561],[691,1948]],[[740,1558],[1098,1558],[1098,1945]],[[1147,1561],[1506,1561],[1506,1948]],[[1554,1561],[1913,1561],[1913,1948]],[[1962,1561],[2321,1561],[2321,1948]]];
const triBlue=[[[313,1563],[313,1949],[671,1949]],[[720,1562],[720,1947],[1078,1947]],[[1128,1562],[1128,1950],[1487,1950]],[[1535,1562],[1535,1950],[1894,1950]],[[1943,1562],[1943,1950],[2302,1950]]];

const stops=[[-11,'#ffffff'],[0,'#fbf4a4'],[10,'#f8ed6b'],[20,'#f4e914'],[27,'#c8da2b'],[32,'#a2cd3a'],[37,'#84c341'],[41,'#6ebe44'],[46,'#57b947'],[52,'#3fb54a'],[58,'#0aae4f'],[62,'#009060'],[65,'#00807f'],[68,'#006b9c'],[72,'#1755a5'],[77,'#3a4fa0'],[84,'#2c3590'],[90,'#262770'],[95,'#151850'],[105,'#0b0c18'],[109,'#050508']];
function hex(c){return [1,3,5].map(i=>parseInt(c.substr(i,2),16));}
function mix(a,b,t){const A=hex(a),B=hex(b);return 'rgb('+A.map((v,i)=>Math.round(v+(B[i]-v)*t)).join(',')+')';}
function ramp(v){for(let i=1;i<stops.length;i++){if(v<=stops[i][0]){const s=stops[i-1],e=stops[i];return mix(s[1],e[1],(v-s[0])/(e[0]-s[0]));}}return stops[stops.length-1][1];}
const palette=[];for(let v=-11;v<=109;v+=0.5)palette.push(ramp(v));

const grid=[],xAxis=[],yAxis=[],series=[];
function addGrid(left,top,width,height,x,y){grid.push({left,top,width,height,containLabel:false});
  xAxis.push(Object.assign({show:false,gridIndex:grid.length-1},x));yAxis.push(Object.assign({show:false,gridIndex:grid.length-1},y));return grid.length-1;}

mapGrids.forEach((g,m)=>{
  const idx=addGrid(g[0],g[2],g[1]-g[0],g[3]-g[2],{type:'value',min:0,max:22},{type:'value',min:0,max:21,inverse:true});
  const data=[];allBins[m].forEach((row,r)=>row.forEach((v,c)=>{if(v>0)data.push([c,r,v]);}));
  series.push({type:'custom',name:mapNames[m],xAxisIndex:idx,yAxisIndex:idx,coordinateSystem:'cartesian2d',clip:true,silent:true,z:2,
    encode:{x:0,y:1},data,
    renderItem(p,api){const c=api.value(0),r=api.value(1),a=api.coord([c-.5,r]),b=api.coord([c+.5,r+1]);
      const s=echarts.graphic.clipRectByRect({x:a[0],y:a[1],width:b[0]-a[0]+.6,height:b[1]-a[1]+.6},{x:p.coordSys.x,y:p.coordSys.y,width:p.coordSys.width,height:p.coordSys.height});
      return s&&{type:'rect',shape:s,style:{fill:api.visual('color')}};}});
});

// main network: coordinates are those of the crop 280..1120 x 130..970
const net=addGrid(280,130,840,840,{type:'value',min:0,max:1568},{type:'value',min:0,max:1568,inverse:true});
const toPoly=f=>{const o=[];for(let i=0;i<f.length;i+=2)o.push([f[i],f[i+1]]);return {coords:o};};
const nodesOf=list=>{const o=[];list.forEach(f=>{for(let i=0;i<f.length-2;i+=2)o.push([f[i],f[i+1]]);});return o;};
const GRAY='#a8a8a8',GLINE='#a3a3a3',RNODE='#ff3333',RLINE='#ff3a3a';
function lines(g,list,color,w,z,op){series.push({type:'lines',coordinateSystem:'cartesian2d',polyline:true,xAxisIndex:g,yAxisIndex:g,silent:true,z,animation:false,
  lineStyle:{color,width:w,opacity:op||1,curveness:0},data:list.map(toPoly)});}
function dots(g,data,color,size,z,hollow,bw){series.push({type:'scatter',xAxisIndex:g,yAxisIndex:g,silent:true,z,data,symbol:'circle',symbolSize:size,large:false,
  itemStyle:hollow?{color:'rgba(255,255,255,0)',borderColor:color,borderWidth:bw||1,opacity:1}:{color,opacity:1}});}
const allGray=grayChains.concat(grayLeaves);
lines(net,allGray,GLINE,1.15,3);
lines(net,redChains,RLINE,1.1,4);
lines(net,coreChains,GLINE,1.15,5);
dots(net,nodesOf(allGray).concat(grayHubs),GRAY,6.4,6);
dots(net,nodesOf(redChains),RNODE,6.6,7);
dots(net,hollowNodes,'#999',6,6,true,1);

// strip of small components
const strip=addGrid(60,940,1240,340,{type:'value',min:0,max:1568},{type:'value',min:0,max:1020,inverse:true});
const pairs=(xs,a,b)=>xs.map(x=>[x,a,x,b]);
const sGray=stripGray.concat(pairs(pairsRow1Gray,67,134),pairs(pairsRow2Gray,254,322),pairs(pairsRow3Gray,397,465));
const sRed=stripRed.concat(pairs(pairsRow1Red,67,134),pairs(pairsRow2Red,254,322),pairs(pairsRow3Red,397,465));
const allNodes=list=>{const o=[];list.forEach(f=>{for(let i=0;i<f.length;i+=2)o.push([f[i],f[i+1]]);});return o;};
lines(strip,sGray,GLINE,1.1,3);lines(strip,sRed,RLINE,1.2,4);
dots(strip,allNodes(sGray).concat(loopsGray.map(x=>[x,395])).concat([[500,460]]),GRAY,6.2,5);
dots(strip,allNodes(sRed).concat(loopsRed.map(x=>[x,395])),RNODE,6.2,6);
dots(strip,loopsGray.map(x=>[x+5,398]).concat([[505,463]]),'#aaa',7,5,true,1);
dots(strip,loopsRed.map(x=>[x+5,398]),RNODE,7,5,true,1);
// network legend
const legendGray=[[293,712,398,722]],legendRed=[[294,894,398,908]];
lines(strip,legendGray,'#b5b5b5',1.6,3);lines(strip,legendRed,RLINE,1.6,3);
dots(strip,allNodes(legendGray),'#b0b0b0',23,5);dots(strip,allNodes(legendRed),RNODE,23,5);

// ratio cells of the table
const ratioG=addGrid(2442,632,266,318,{type:'category',data:['nodes','edges']},{type:'category',data:datasets,inverse:true});
const ratioData=[];nodeRatio.forEach((v,r)=>ratioData.push([0,r,v]));edgeRatio.forEach((v,r)=>ratioData.push([1,r,v]));
series.push({type:'custom',xAxisIndex:ratioG,yAxisIndex:ratioG,coordinateSystem:'cartesian2d',silent:true,z:2,data:ratioData,encode:{x:0,y:1},
  renderItem(p,api){const c=api.value(0),r=api.value(1),v=api.value(2),q=api.coord([c,r]),s=api.size([1,1]);
    const fill=c===0?mix('#ffffff','#fbbdc0',(v-.09)/.42):mix('#ffffff','#fa8080',(v-1.05)/7.27);
    return {type:'group',children:[{type:'rect',shape:{x:q[0]-s[0]/2,y:q[1]-s[1]/2,width:s[0],height:s[1]},style:{fill}},
      {type:'text',x:q[0],y:q[1]+7,style:{text:v.toFixed(2),font:'32px Lato',fill:'#000',textAlign:'center',textVerticalAlign:'middle'}}]};}});

// ---------- static text and frames
const g=[];
g.push({type:'bezierCurve',silent:true,z:20,shape:{x1:58,y1:0,cpx1:47,cpy1:12,cpx2:41,cpy2:30,x2:41,y2:60},style:{fill:null,stroke:'#000',lineWidth:2}});
g.push(L(41,60,41,2240,2));
g.push({type:'bezierCurve',silent:true,z:20,shape:{x1:41,y1:2240,cpx1:41,cpy1:2265,cpx2:44,cpy2:2285,x2:48,y2:2299},style:{fill:null,stroke:'#000',lineWidth:2}});
g.push(T('Current map of the yeast interactome',264,62,46,784));
g.push(T('YI2 contribution to YeRI :',1549,216,74,882,{weight:'bold'}));
g.push(T('nodes : 21% (467 out of 2,212)',1549,306,74,1018));
g.push(T('edges : 32% (1,198 out of 3,712)',1549,395,74,1080));
g.push(T('YI2 detects novel interactions compared',2042,1016,74,1314,{align:'center'}));
g.push(T('to the previous binary datasets',2054,1106,74,1007,{align:'center'}));
g.push(T('in previously published PPI',395,1179,49,570));
g.push(T('new from YI2',395,1237,49,278));
g.push(T('All yeast interactome datasets are biased for proteins that are more abundant',1388,2175,74,2534,{align:'center'}));
g.push(T('and more studied. This suggest that part of these biases are biological.',1397,2264,74,2321,{align:'center'}));
g.push(T('Number of literature citations',320,1434,46,568,{fill:'#231f20'}));
g.push(T('Number of PPI in bin',2264,1428,46,441));
g.push(T('Protein cellular',118,1780,50,338,{align:'center',rot:Math.PI/2,fill:'#231f20'}));
g.push(T('abundance',176,1775,50,254,{align:'center',rot:Math.PI/2,fill:'#231f20'}));
const mapLabelPos=[[496,1997,162],[888,1994,473],[1362,1997,408],[1753,1994,322],[2127,1997,192]];
mapNames.forEach((n,i)=>g.push(T(n,mapLabelPos[i][0],mapLabelPos[i][1],46,mapLabelPos[i][2],{align:'center',fill:'#231f20'})));
const tickY=[1528,1643,1758,1872,1987];
colorbarTicks.forEach((t,i)=>g.push(T(t,2516,tickY[i],48,[133,51,51,51,25][i],{fill:'#231f20'})));
// wedges
g.push({type:'polygon',silent:true,z:20,shape:{points:[[324,1473],[324,1536],[691,1536],[691,1533]]},style:{fill:RED}});
g.push({type:'polygon',silent:true,z:20,shape:{points:[[211,1558],[270,1558],[270,1948],[267,1948]]},style:{fill:BLUE}});
// triangles around heat maps, with the white diagonal band between them
mapGrids.forEach((_,i)=>{const r=triRed[i],b=triBlue[i];
  const rp=[[r[0][0]+6,r[0][1]+2.5],[r[1][0]-2.5,r[1][1]+2.5],[r[2][0]-2.5,r[2][1]-6]];
  const bp=[[b[0][0]+2.5,b[0][1]+6],[b[1][0]+2.5,b[1][1]-2.5],[b[2][0]-6,b[2][1]-2.5]];
  g.push({type:'polygon',silent:true,z:10,shape:{points:[bp[0],bp[2],rp[2],rp[0]]},style:{fill:'#fff'}});
  g.push({type:'polygon',silent:true,z:11,shape:{points:rp},style:{fill:null,stroke:RED,lineWidth:5,lineJoin:'miter',miterLimit:12}});
  g.push({type:'polygon',silent:true,z:11,shape:{points:bp},style:{fill:null,stroke:BLUE,lineWidth:5,lineJoin:'miter',miterLimit:12}});
});
// table
const LAT='Lato,Carlito,sans-serif',TF=32;
const colX=[1527,1793,1978,2164,2349,2509,2642];
tableHead.forEach((t,i)=>g.push(T(t,colX[i],609,TF,i===0?328:0,{align:'center',fam:LAT})));
[datasets,oldNodes,oldEdges,newNodes,newEdges].forEach((col,c)=>col.forEach((t,r)=>g.push(T(t,colX[c],663.5+53*r,TF,0,{align:'center',fam:LAT}))));
g.push(T('New nodes',2492,513,TF,159,{align:'center',fam:LAT}));
g.push(T('Old nodes',2492,555,TF,145,{align:'center',fam:LAT}));
g.push(T('New edges',2661,513,TF,158,{align:'center',fam:LAT}));
g.push(T('Old edges',2661,555,TF,143,{align:'center',fam:LAT}));
g.push(L(2411,535,2571,535,2,'#222'),L(2582,535,2740,535,2,'#222'));
g.push(L(1352,579,2708,579,2.5,'#555'),L(1352,632,2708,632,2.5,'#555'),L(1352,950,2708,950,2.5,'#555'));
g.push(L(1352,578,1352,951,1.5,'#333'),L(1700,578,1700,951,1.5,'#333'),L(2442,578,2442,951,1.5,'#333'),L(2708,578,2708,951,1.5,'#333'));

const chart=echarts.init(document.getElementById('c'),null,{renderer:'canvas',width:W,height:H});
chart.setOption({backgroundColor:'#fff',animation:false,grid,xAxis,yAxis,series,graphic:{elements:g},
  visualMap:[{type:'continuous',seriesIndex:[0,1,2,3,4],dimension:2,min:-11,max:109,left:2394,top:1484,itemWidth:66,itemHeight:551,padding:0,calculable:false,text:null,showLabel:false,hoverLink:false,inRange:{color:palette},outOfRange:{color:'#fff'},textStyle:{fontSize:0,color:'rgba(0,0,0,0)'},borderWidth:0}]});
</script></body></html>
